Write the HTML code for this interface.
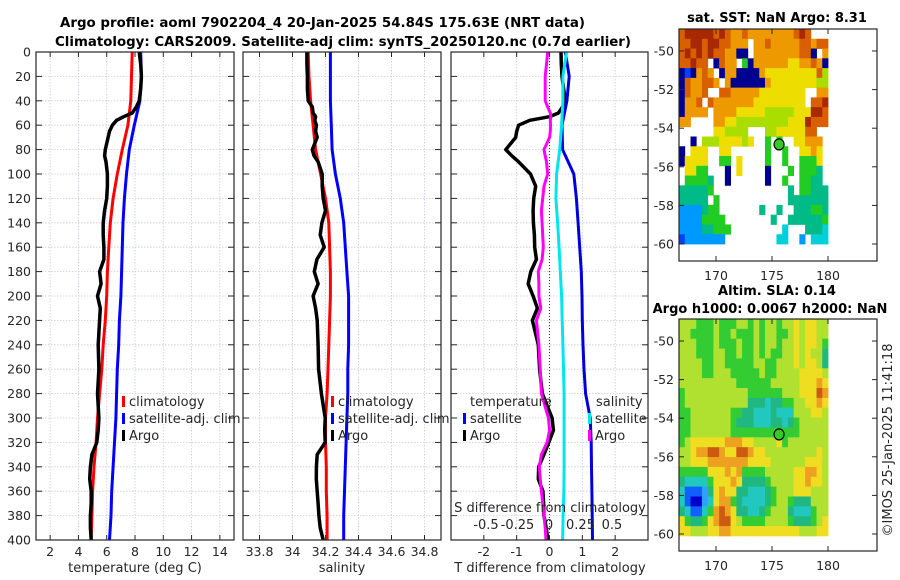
<!DOCTYPE html>
<html><head><meta charset="utf-8"><style>
html,body{margin:0;padding:0;background:#fff;}
svg{display:block;font-family:"DejaVu Sans","Liberation Sans",sans-serif;}
</style></head><body>
<svg id="fig" width="900" height="580" viewBox="0 0 900 580" xmlns="http://www.w3.org/2000/svg">
<rect width="900" height="580" fill="#fff"/>
<text x="60" y="27" font-size="13" font-weight="bold" textLength="525" lengthAdjust="spacingAndGlyphs">Argo profile: aoml 7902204_4 20-Jan-2025 54.84S 175.63E (NRT data)</text>
<text x="55" y="46" font-size="13" font-weight="bold" textLength="576" lengthAdjust="spacingAndGlyphs">Climatology: CARS2009. Satellite-adj clim: synTS_20250120.nc (0.7d earlier)</text>
<text x="777" y="22" font-size="13" font-weight="bold" text-anchor="middle">sat. SST: NaN Argo: 8.31</text>
<text x="777" y="295" font-size="13" font-weight="bold" text-anchor="middle">Altim. SLA: 0.14</text>
<text x="770" y="313" font-size="13" font-weight="bold" text-anchor="middle">Argo h1000: 0.0067 h2000: NaN</text>
<text x="0" y="0" font-size="13" fill="#262626" text-anchor="middle" transform="translate(892,440) rotate(-90)">©IMOS 25-Jan-2025 11:41:18</text>
<g id="layer"></g>
</svg>
<script>
// ---------- data ----------
const climDepths=[0,20,40,60,80,100,120,140,160,180,200,220,240,260,280,300,320,340,360,380,400];
const climTemp=[7.8,7.75,7.7,7.5,7.1,6.75,6.45,6.25,6.15,6.05,6.0,5.9,5.75,5.65,5.5,5.35,5.25,5.1,5.0,4.95,4.9];
const satTemp=[8.4,8.45,8.35,7.95,7.6,7.4,7.25,7.15,7.1,7.05,7.0,6.9,6.85,6.75,6.7,6.65,6.55,6.45,6.35,6.3,6.2];
const climSal=[34.095,34.1,34.11,34.125,34.14,34.17,34.2,34.22,34.225,34.23,34.23,34.225,34.22,34.215,34.21,34.2,34.2,34.205,34.205,34.21,34.21];
const satSal=[34.23,34.23,34.23,34.235,34.24,34.26,34.29,34.31,34.32,34.33,34.34,34.34,34.34,34.335,34.335,34.33,34.325,34.32,34.315,34.31,34.31];
const satTempDiff=[0.48,0.6,0.53,0.38,0.4,0.74,0.82,0.87,0.92,0.97,0.99,1.0,1.02,1.05,1.1,1.24,1.27,1.28,1.29,1.3,1.31];
const satSalDiff=[0.14,0.11,0.11,0.1,0.085,0.06,0.055,0.068,0.08,0.09,0.1,0.105,0.11,0.115,0.12,0.12,0.12,0.12,0.118,0.112,0.108];
const argoDepths=[0,10,20,30,40,45,50,53,56,60,65,70,80,85,90,100,110,120,130,140,150,160,170,180,190,200,210,220,240,260,280,300,310,320,330,340,350,360,370,380,390,400];
const argoTemp=[8.3,8.4,8.45,8.4,8.3,8.1,7.8,7.2,6.7,6.4,6.2,6.1,5.9,5.85,5.95,6.05,6.05,6.0,5.85,5.75,5.75,5.8,5.8,5.5,5.6,5.35,5.55,5.5,5.4,5.45,5.35,5.45,5.4,5.3,4.95,4.85,4.8,4.9,4.9,4.85,4.85,4.9];
const argoSal=[34.087,34.087,34.09,34.09,34.095,34.12,34.125,34.14,34.135,34.145,34.14,34.15,34.12,34.13,34.155,34.18,34.18,34.186,34.2,34.178,34.168,34.192,34.148,34.132,34.155,34.125,34.14,34.15,34.155,34.158,34.175,34.198,34.195,34.198,34.15,34.145,34.144,34.15,34.155,34.16,34.168,34.186];
const argoTempDiff=[0.35,0.36,0.38,0.43,0.48,0.4,0.27,0.0,-0.6,-0.94,-1.0,-1.03,-1.33,-1.15,-0.94,-0.58,-0.42,-0.48,-0.5,-0.49,-0.46,-0.45,-0.4,-0.57,-0.65,-0.5,-0.37,-0.52,-0.34,-0.3,-0.22,0.08,0.12,-0.02,-0.17,-0.33,-0.34,-0.2,-0.18,-0.17,-0.1,-0.05];
const argoSalDiff=[-0.01,-0.02,-0.03,-0.03,-0.03,-0.01,0.01,0.015,0.01,0.012,0.01,0.005,-0.04,-0.03,-0.02,-0.01,-0.04,-0.05,-0.06,-0.055,-0.05,-0.045,-0.055,-0.085,-0.08,-0.08,-0.065,-0.1,-0.08,-0.07,-0.06,-0.005,0.005,-0.015,-0.06,-0.077,-0.07,-0.06,-0.05,-0.04,-0.03,-0.024];
const depthTicks=[0,20,40,60,80,100,120,140,160,180,200,220,240,260,280,300,320,340,360,380,400];
const tempTicks=[2,4,6,8,10,12,14];
const salTicks=[33.8,34,34.2,34.4,34.6,34.8];
const salTickLabels=["33.8","34","34.2","34.4","34.6","34.8"];
const tdiffTicks=[-2,-1,0,1,2];
const sdiffTicks=[-0.5,-0.25,0,0.25,0.5];
const lonTicks=[170,175,180];
const latTicks=[-50,-52,-54,-56,-58,-60];
const sstGrid=[
"9AAAAA9A9889888888889A9...",
"99AA9AA99888.8898888899899",
"9A9A9A998800.88888888990.8",
"99A99.0988.508888887788980",
"010898.0880000877777777796",
"0988998.800000087777777766",
"09889..998888877777777..88",
"0889.98888888777777777.99A",
"08888.88887777766666777AA9",
"88....8877666666666777A999",
"......776666...667777799..",
"..0.666777767..5.5..77888.",
"0.777..77......5..5..7787.",
"07777..55.7....5..5..5557.",
".7755...0.7....0...5.5554.",
".55554..0......0..5..5544.",
"444445.............4.55444",
"44444.5............4444444",
"2222455.......4..4..444554",
"22225555........4..4444445",
"222244555.........3...4443",
"12222222.........33..2.333"];
const slaGrid=[
"66655565556656566566767766",
"66555565565556566556767766",
"66655565556556566566767765",
"66655566556556565566767664",
"66665566555556655666767764",
"66665566655555655666677776",
"66666666665555556666677787",
"56666666666655555566677798",
"56666666666644434455667787",
"55666666655443334333666776",
"55666666654443334434566666",
"55666666655555555555566666",
"56777777888776666756666666",
"66788998779987766666666676",
"66777888888877776666667776",
"55555777878555566666778876",
"43333577787444456666778776",
"31112478774433345666777666",
"31002378854333345665444666",
"43113589874433456664333566",
"75445789976555566665444567",
"77666778877777777777766677"];
const argoLon=175.63, argoLat=-54.84;

// ---------- helpers ----------
const NS="http://www.w3.org/2000/svg";
const layer=document.getElementById('layer');
function mk(tag,attrs,parent){const e=document.createElementNS(NS,tag);for(const k in attrs)e.setAttribute(k,attrs[k]);(parent||layer).appendChild(e);return e;}
const Y0=52,Y1=540;
const yDepth=d=>Y0+d*(Y1-Y0)/400;
function lin(d0,d1,r0,r1){return v=>r0+(v-d0)*(r1-r0)/(d1-d0);}
const gridCol="#c8cce0";

function panelFrame(name,x0,x1,xs,ticks,labels,showY){
  const g=mk('g',{});
  
  
  depthTicks.forEach(d=>{
    const y=yDepth(d);
    mk('line',{x1:x0,x2:x1,y1:y,y2:y,stroke:gridCol,'stroke-width':0.8,'stroke-dasharray':'1.5,1.5'},g);
    mk('line',{x1:x0,x2:x0+6,y1:y,y2:y,stroke:'#262626','stroke-width':1},g);
    mk('line',{x1:x1-6,x2:x1,y1:y,y2:y,stroke:'#262626','stroke-width':1},g);
    if(showY){const t=mk('text',{x:x0-5,y:y+4.5,'font-size':12.5,'text-anchor':'end',fill:'#262626'},g);t.textContent=d;
      
      }
  });
  ticks.forEach((v,i)=>{
    const x=xs(v);
    mk('line',{x1:x,x2:x,y1:Y0,y2:Y1,stroke:gridCol,'stroke-width':0.8,'stroke-dasharray':'1.5,1.5'},g);
    mk('line',{x1:x,x2:x,y1:Y1,y2:Y1-5,stroke:'#262626','stroke-width':1},g);
    mk('line',{x1:x,x2:x,y1:Y0,y2:Y0+5,stroke:'#262626','stroke-width':1},g);
    if(labels){const t=mk('text',{x:x,y:556,'font-size':12.5,'text-anchor':'middle',fill:'#262626'},g);t.textContent=labels[i];
      
      }
  });
  return g;
}
function series(name,depths,vals,xs,color,w){
  const pts=depths.map((d,i)=>xs(vals[i]).toFixed(1)+','+yDepth(d).toFixed(1)).join(' ');
  const p=mk('polyline',{points:pts,fill:'none',stroke:color,'stroke-width':w,'stroke-linejoin':'round'});
  
  
}
function box(x0,x1){mk('rect',{x:x0,y:Y0,width:x1-x0,height:Y1-Y0,fill:'none',stroke:'#262626','stroke-width':1.2});}
function legendItem(name,x,y,color,label){
  mk('rect',{x:x,y:y-10,width:3,height:11,fill:color});
  const t=mk('text',{x:x+7,y:y,'font-size':13,fill:'#262626'});t.textContent=label;
  
  
}
function txt(name,x,y,s,anchor,size){const t=mk('text',{x:x,y:y,'font-size':size||13,'text-anchor':anchor||'start',fill:'#262626'});t.textContent=s;
  
  return t;}

// ---------- panel 1: temperature ----------
const xT=lin(1,15,36,234);
panelFrame('temperature-panel',36,234,xT,tempTicks,tempTicks.map(String),true);
series('temperature-climatology-line',climDepths,climTemp,xT,'#ff0000',3);
series('temperature-satellite-line',climDepths,satTemp,xT,'#0000ff',3);
series('temperature-argo-line',argoDepths,argoTemp,xT,'#000000',3.5);
box(36,234);
legendItem('legend-climatology',122,406,'#ff0000','climatology');
legendItem('legend-satellite-adj',122,423,'#0000ff','satellite-adj. clim');
legendItem('legend-argo',122,440,'#000000','Argo');
txt('temperature-axis-title',135,572,'temperature (deg C)','middle');

// ---------- panel 2: salinity ----------
const xS=lin(33.7,34.9,243,441);
panelFrame('salinity-panel',243,441,xS,salTicks,salTickLabels,false);
series('salinity-climatology-line',climDepths,climSal,xS,'#ff0000',3);
series('salinity-satellite-line',climDepths,satSal,xS,'#0000ff',3);
series('salinity-argo-line',argoDepths,argoSal,xS,'#000000',3.5);
box(243,441);
legendItem('legend-climatology-sal',331,406,'#ff0000','climatology');
legendItem('legend-satellite-adj-sal',331,423,'#0000ff','satellite-adj. clim');
legendItem('legend-argo-sal',331,440,'#000000','Argo');
txt('salinity-axis-title',342,572,'salinity','middle');

// ---------- panel 3: differences ----------
const xTd=lin(-3,3,451,648);
const xSd=lin(0,0.25,549,580.5);
panelFrame('difference-panel',451,648,xTd,tdiffTicks,tdiffTicks.map(String),false);
mk('line',{x1:xTd(0),x2:xTd(0),y1:Y0,y2:Y1,stroke:'#333','stroke-width':1,'stroke-dasharray':'1,2'});
series('temp-diff-argo-line',argoDepths,argoTempDiff,xTd,'#000000',3.5);
series('temp-diff-satellite-line',climDepths,satTempDiff,xTd,'#0000dd',3);
series('sal-diff-satellite-line',climDepths,satSalDiff,xSd,'#00e5ee',3);
series('sal-diff-argo-line',argoDepths,argoSalDiff,xSd,'#ff00ff',3);
box(451,648);
txt('legend-temperature-header',470,406,'temperature');
legendItem('legend-temp-satellite',463,423,'#0000ff','satellite');
legendItem('legend-temp-argo',463,440,'#000000','Argo');
txt('legend-salinity-header',596,406,'salinity');
legendItem('legend-sal-satellite',588,423,'#00e5ee','satellite');
legendItem('legend-sal-argo',588,440,'#ff00ff','Argo');
txt('s-diff-axis-title',550,512,'S difference from climatology','middle');
sdiffTicks.forEach(v=>{txt('s-diff-tick-label',xSd(v),529,String(v),'middle');});
txt('t-diff-axis-title',550,572,'T difference from climatology','middle');

// ---------- maps ----------
const cmap={'0':'#00008f','1':'#0040ff','2':'#0099ff','3':'#00d0d8','4':'#00bb88','5':'#22cc22','6':'#aadd00','7':'#eedd00','8':'#ee9900','9':'#d86000','A':'#a82800'};
const slaMap={'0':'#0000cc','1':'#1060ff','2':'#30a0ff','3':'#20c8c0','4':'#20b880','5':'#33cc33','6':'#b0e030','7':'#eedd20','8':'#eea020','9':'#cc5a10','A':'#a83000'};
function map(name,boxTop,boxBot,yAt50,yAt60,lat0,lat1,grid,colors){
  const g=mk('g',{});
  
  
  const xL=lin(170,175,716,772);
  const yL=lin(-50,-60,yAt50,yAt60);
  const lon0=166.7,lon1=180;
  const rows=grid.length;
  grid.forEach((row,r)=>{
    const la=lat0+(lat1-lat0)*r/rows, lb=lat0+(lat1-lat0)*(r+1)/rows;
    for(let c=0;c<26;c++){
      const ch=row[c]; if(!ch||ch==='.')continue;
      const a=lon0+(lon1-lon0)*c/26,b=lon0+(lon1-lon0)*(c+1)/26;
      mk('rect',{x:xL(a).toFixed(2),y:yL(la).toFixed(2),width:(xL(b)-xL(a)+0.4).toFixed(2),height:(yL(lb)-yL(la)+0.4).toFixed(2),fill:colors[ch]},g);
    }
  });
  mk('rect',{x:679,y:boxTop,width:198,height:boxBot-boxTop,fill:'none',stroke:'#262626','stroke-width':1.2},g);
  latTicks.forEach(v=>{const y=yL(v);
    mk('line',{x1:679,x2:684,y1:y,y2:y,stroke:'#262626'},g);
    mk('line',{x1:872,x2:877,y1:y,y2:y,stroke:'#262626'},g);
    const t=mk('text',{x:674,y:y+4.5,'font-size':12.5,'text-anchor':'end',fill:'#262626'},g);t.textContent=String(v);
    
    });
  lonTicks.forEach(v=>{const x=xL(v);
    mk('line',{x1:x,x2:x,y1:boxBot,y2:boxBot-5,stroke:'#262626'},g);
    mk('line',{x1:x,x2:x,y1:boxTop,y2:boxTop+5,stroke:'#262626'},g);
    const t=mk('text',{x:x,y:boxBot+19,'font-size':12.5,'text-anchor':'middle',fill:'#262626'},g);t.textContent=String(v);
    
    });
  const m=mk('ellipse',{cx:xL(argoLon),cy:yL(argoLat),rx:5,ry:5.5,fill:'#33cc22',stroke:'#000','stroke-width':1.2},g);
  
  
}
map('sst-map',29,261,51,244,-48.86,-60,sstGrid,cmap);
map('sla-map',319,551,341,534,-48.86,-60.1,slaGrid,slaMap);
</script>
</body></html>
